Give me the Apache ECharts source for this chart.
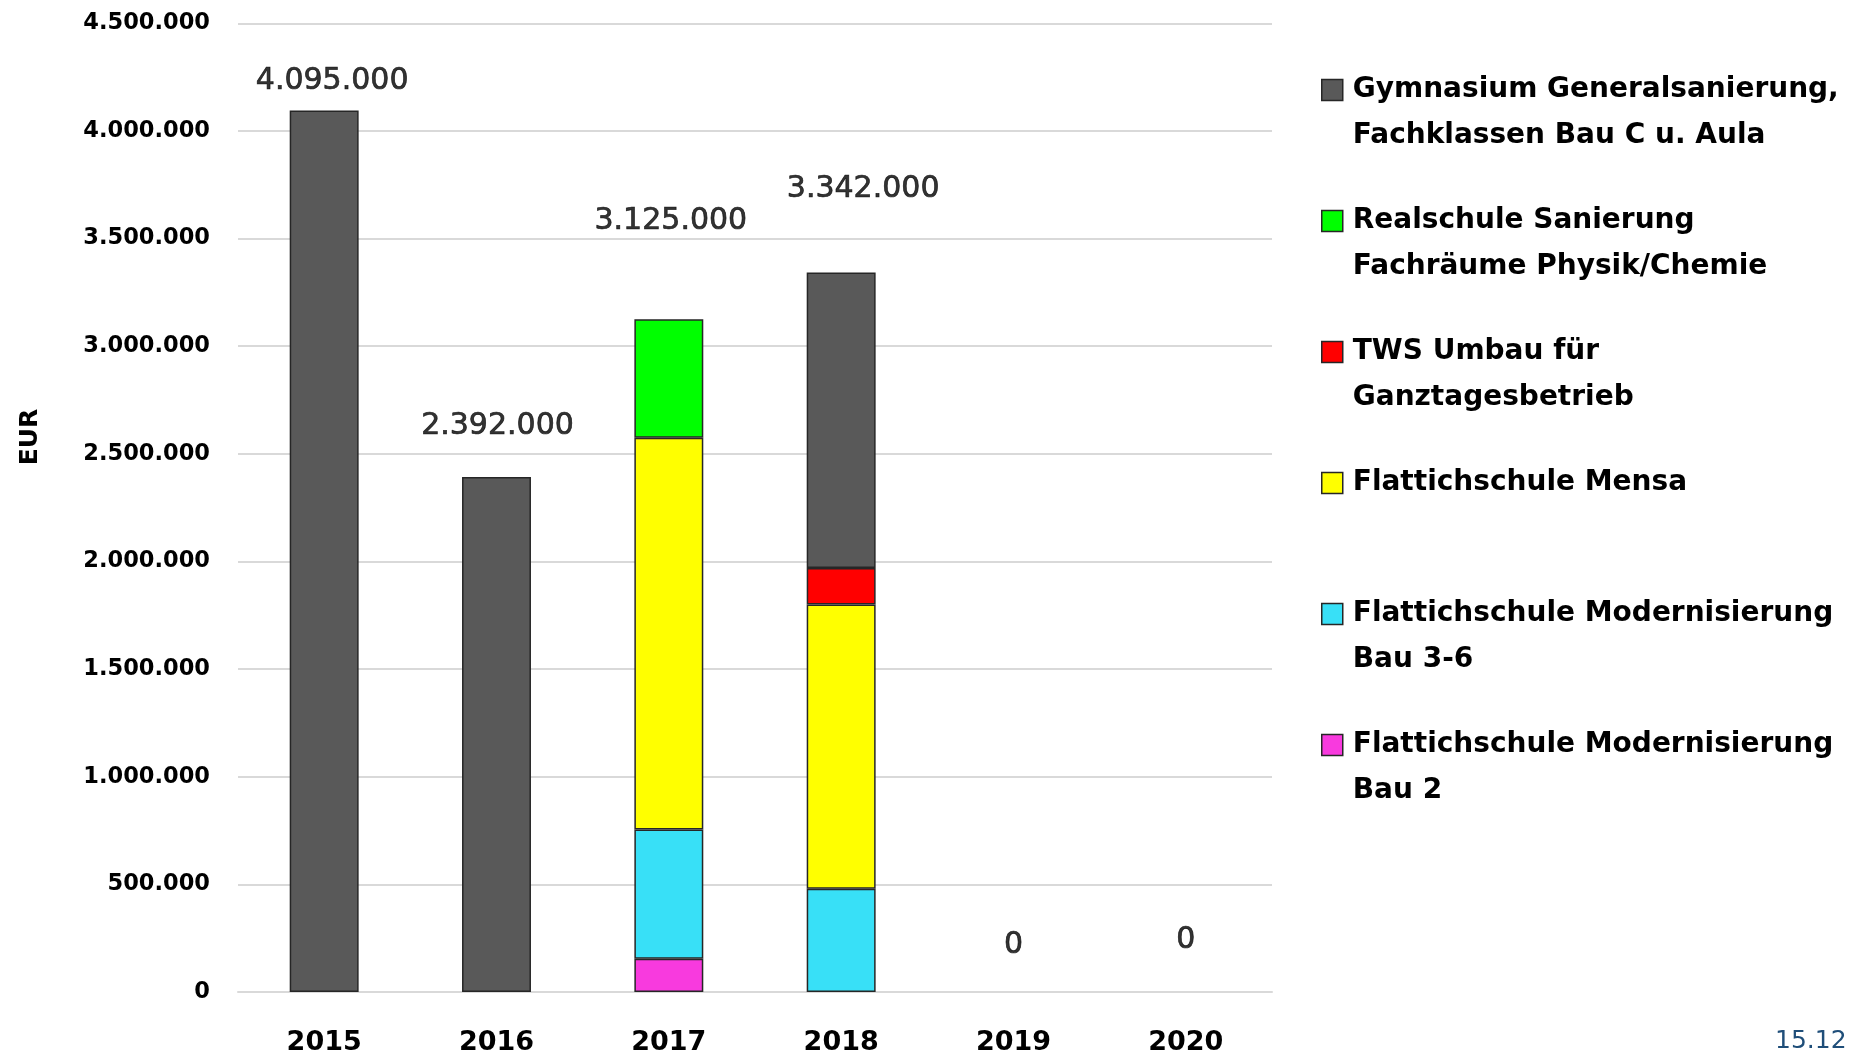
<!DOCTYPE html>
<html><head><meta charset="utf-8">
<script src="https://cdn.jsdelivr.net/npm/echarts@6/dist/echarts.min.js"></script>
<style>html,body{margin:0;padding:0;background:#fff}#c{width:1854px;height:1056px}</style>
</head><body><div id="c"></div>
<script>
// ---- data ----
const years = ['2015', '2016', '2017', '2018', '2019', '2020'];
const gymnasium = [4095000, 2392000, null, 1372000, null, null];
const realschule = [null, null, 550000, null, null, null];
const tws = [null, null, null, 170000, null, null];
const mensa = [null, null, 1820000, 1320000, null, null];
const bau36 = [null, null, 600000, 480000, null, null];
const bau2 = [null, null, 155000, null, null, null];
const yMin = 0, yMax = 4500000, yStep = 500000;

const nameGym = 'Gymnasium Generalsanierung,\nFachklassen Bau C u. Aula';
const nameReal = 'Realschule Sanierung\nFachräume Physik/Chemie';
const nameTws = 'TWS Umbau für\nGanztagesbetrieb';
const nameMensa = 'Flattichschule Mensa';
const nameBau36 = 'Flattichschule Modernisierung\nBau 3-6';
const nameBau2 = 'Flattichschule Modernisierung\nBau 2';

// label placement styles (offsets of the total labels, px)
const totalLabelOffsets = [[8, -29.5], [1, -50.5], [2, -98.5], [22, -83.5], [0, -46.5], [0, -52]];

const fmt = v => String(Math.round(v)).replace(/\B(?=(\d{3})+(?!\d))/g, '.');
const stackSeries = [
  [nameBau2, bau2, '#f83ade'],
  [nameBau36, bau36, '#38e0f7'],
  [nameMensa, mensa, '#ffff00'],
  [nameTws, tws, '#ff0000'],
  [nameReal, realschule, '#00ff00'],
  [nameGym, gymnasium, '#595959']
];
const totals = years.map((_, i) => stackSeries.reduce((s, d) => s + (d[1][i] || 0), 0));

const FONT = 'DejaVu Sans';
const chart = echarts.init(document.getElementById('c'), null, {renderer: 'canvas'});
const series = stackSeries.map(([name, data, color]) => ({
  name, type: 'bar', stack: 'total', data, barWidth: '40%',
  itemStyle: {color, borderColor: '#262626', borderWidth: 1.5},
  emphasis: {disabled: true}
}));
series.push({
  name: 'Summe', type: 'scatter', data: totals.map((v, i) => ({
    value: v,
    label: {offset: totalLabelOffsets[i]}
  })),
  symbolSize: 1, itemStyle: {color: 'rgba(0,0,0,0)'}, silent: true, z: 10,
  label: {
    show: true, position: 'inside', formatter: p => fmt(p.value),
    fontFamily: FONT, fontSize: 30, color: '#000', fontWeight: 'normal',
    textBorderColor: '#000', textBorderWidth: 0.7
  }
});

chart.setOption({
  animation: false,
  backgroundColor: '#fff',
  grid: {left: 238, right: 582, top: 23.3, bottom: 63.3},
  xAxis: {
    type: 'category', data: years,
    axisTick: {show: false},
    axisLine: {lineStyle: {color: '#d9d9d9', width: 2}},
    axisLabel: {fontFamily: FONT, fontWeight: 'bold', fontSize: 27, lineHeight: 27, color: '#000', margin: 37}
  },
  yAxis: {
    type: 'value', min: yMin, max: yMax, interval: yStep,
    axisLine: {show: false}, axisTick: {show: false},
    splitLine: {lineStyle: {color: '#d9d9d9', width: 2}},
    axisLabel: {fontFamily: FONT, fontWeight: 'bold', fontSize: 22.5, color: '#000', margin: 28, formatter: fmt}
  },
  legend: {
    data: [nameGym, nameReal, nameTws, nameMensa, nameBau36, nameBau2],
    // leading empty line keeps the icon level with the first text line
    formatter: name => '\n' + name + (name.indexOf('\n') < 0 ? '\n' : ''),
    orient: 'vertical', left: 1321, top: 21, padding: 0,
    itemWidth: 21, itemHeight: 21, itemGap: -7, icon: 'rect',
    itemStyle: {borderColor: '#262626', borderWidth: 1.5},
    textStyle: {fontFamily: FONT, fontWeight: 'bold', fontSize: 28, lineHeight: 46, color: '#000', padding: [0, 0, 0, 5]},
    selectedMode: false
  },
  graphic: [
    {type: 'text', x: 30, y: 437, rotation: Math.PI / 2,
     style: {text: 'EUR', fontFamily: FONT, fontWeight: 'bold', fontSize: 25, fill: '#000', align: 'center', verticalAlign: 'middle'}},
    {type: 'text', x: 1775, y: 1041,
     style: {text: '15.12', fontFamily: FONT, fontSize: 25, fill: '#1f4e79', align: 'left', verticalAlign: 'middle'}}
  ],
  series
});
</script></body></html>
